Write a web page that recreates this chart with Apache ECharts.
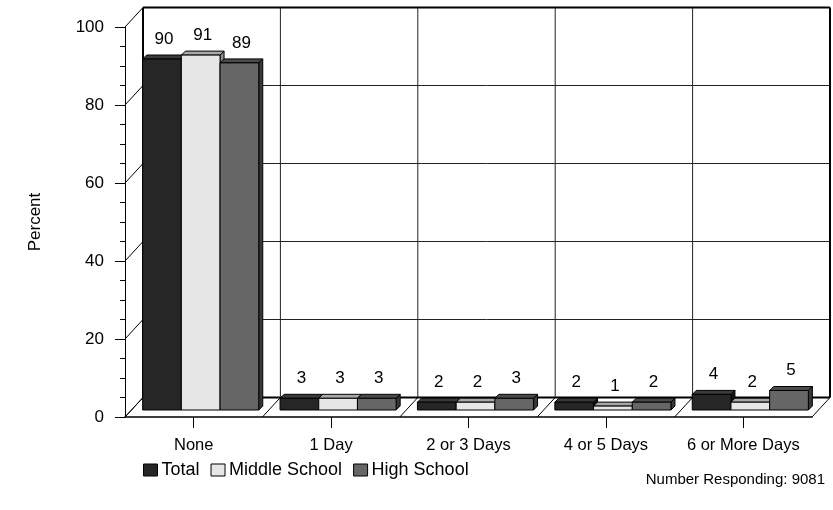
<!DOCTYPE html>
<html>
<head>
<meta charset="utf-8">
<script src="https://cdn.jsdelivr.net/npm/echarts@6/dist/echarts.min.js"></script>
<style>
  html, body { margin: 0; padding: 0; background: #ffffff; }
  #chart { width: 833px; height: 510px; }
</style>
</head>
<body>
<div id="chart"></div>
<script>
// Survey answers: share of students (percent) by number of days
const categories = ['None', '1 Day', '2 or 3 Days', '4 or 5 Days', '6 or More Days'];
const seriesNames = ['Total', 'Middle School', 'High School'];
const totalValues = [90, 3, 2, 2, 4];
const middleValues = [91, 3, 2, 1, 2];
const highValues = [89, 3, 3, 2, 5];
const yTickValues = [0, 20, 40, 60, 80, 100];
const respondentNote = 'Number Responding: 9081';

const FONT = '"Liberation Sans", Arial, Helvetica, sans-serif';

// Pseudo-3D geometry (pixels)
const WALL_DX = 18, WALL_DY = -19.5;      // depth of the box (back wall offset)
const BAR_SHIFT_X = 7, BAR_SHIFT_Y = -7;  // bars stand a little behind the front edge
const BAR_DX = 4, BAR_DY = -4;            // thickness of each bar
const GROUP_RATIO = 0.845;                // share of a category band used by its bars

// front / top / side shades for each series
const faceColors = [
  { front: '#262626', top: '#3a3a3a', side: '#121212' },
  { front: '#e6e6e6', top: '#a8a8a8', side: '#8c8c8c' },
  { front: '#666666', top: '#4a4a4a', side: '#383838' }
];

function line(x1, y1, x2, y2, w, color) {
  return {
    type: 'line',
    shape: { x1: x1, y1: y1, x2: x2, y2: y2 },
    style: { stroke: color || '#000', lineWidth: w || 1 }
  };
}

// Back wall, left side wall and floor of the box
function renderFrame(params, api) {
  const cs = params.coordSys;
  const x0 = cs.x, x1 = cs.x + cs.width;
  const yTop = cs.y, yBot = cs.y + cs.height;
  const band = api.size([1, 0])[0];
  const kids = [];
  kids.push({
    type: 'polygon',
    shape: { points: [[x0 + WALL_DX, yTop + WALL_DY], [x1 + WALL_DX, yTop + WALL_DY],
                      [x1 + WALL_DX, yBot + WALL_DY], [x0 + WALL_DX, yBot + WALL_DY]] },
    style: { fill: '#ffffff' }
  });
  // horizontal grid lines on the back wall, diagonals on the left wall
  yTickValues.forEach(function (v) {
    const y = api.coord([0, v])[1];
    const edge = (v === 0 || v === 100);
    kids.push(line(x0, y, x0 + WALL_DX, y + WALL_DY, 1, '#000'));
    kids.push(line(x0 + WALL_DX, y + WALL_DY, x1 + WALL_DX, y + WALL_DY, edge ? 2 : 1, edge ? '#000' : '#222'));
  });
  // category boundaries: back wall verticals and floor diagonals
  for (let k = 0; k <= categories.length; k++) {
    const xb = x0 + k * band;
    const edge = (k === 0 || k === categories.length);
    kids.push(line(xb + WALL_DX, yTop + WALL_DY, xb + WALL_DX, yBot + WALL_DY, edge ? 2 : 1, edge ? '#000' : '#222'));
    kids.push(line(xb, yBot, xb + WALL_DX, yBot + WALL_DY, 1, '#000'));
  }
  return { type: 'group', children: kids };
}

function makeBarRenderer(idx) {
  const c = faceColors[idx];
  return function (params, api) {
    const cat = api.value(0), val = api.value(1);
    const topPt = api.coord([cat, val]);
    const basePt = api.coord([cat, 0]);
    const band = api.size([1, 0])[0];
    const groupW = band * GROUP_RATIO;
    const bw = groupW / 3;
    const left = topPt[0] - groupW / 2 + idx * bw + BAR_SHIFT_X;
    const right = left + bw;
    const yT = topPt[1] + BAR_SHIFT_Y;
    const yB = basePt[1] + BAR_SHIFT_Y;
    const edge = { stroke: '#000', lineWidth: 1, lineJoin: 'miter' };
    return {
      type: 'group',
      children: [
        { type: 'polygon',
          shape: { points: [[right, yT], [right + BAR_DX, yT + BAR_DY], [right + BAR_DX, yB + BAR_DY], [right, yB]] },
          style: Object.assign({ fill: c.side }, edge) },
        { type: 'polygon',
          shape: { points: [[left, yT], [left + BAR_DX, yT + BAR_DY], [right + BAR_DX, yT + BAR_DY], [right, yT]] },
          style: Object.assign({ fill: c.top }, edge) },
        { type: 'rect',
          shape: { x: left, y: yT, width: bw, height: yB - yT },
          style: Object.assign({ fill: c.front }, edge) },
        { type: 'text',
          x: left + bw / 2 + 2, y: yT - 20,
          style: { text: String(val), fill: '#000', font: '17px ' + FONT,
                   align: 'center', verticalAlign: 'middle' } }
      ]
    };
  };
}

const valueSets = [totalValues, middleValues, highValues];

const barSeries = seriesNames.map(function (name, i) {
  return {
    name: name,
    type: 'custom',
    z: 3,
    renderItem: makeBarRenderer(i),
    itemStyle: { color: faceColors[i].front, borderColor: '#000', borderWidth: 1 },
    encode: { x: 0, y: 1 },
    data: valueSets[i].map(function (v, k) { return [k, v]; })
  };
});

const chart = echarts.init(document.getElementById('chart'), null, { renderer: 'canvas' });
chart.setOption({
  animation: false,
  backgroundColor: '#ffffff',
  textStyle: { fontFamily: FONT, color: '#000' },
  title: {
    text: respondentNote,
    right: 3, top: 467,
    textStyle: { fontSize: 15, fontWeight: 'normal', color: '#000', fontFamily: FONT }
  },
  legend: {
    data: seriesNames,
    left: 138, top: 456,
    icon: 'rect',
    itemWidth: 14, itemHeight: 12, itemGap: 11,
    itemStyle: { borderColor: '#000', borderWidth: 1 },
    textStyle: { fontSize: 18, color: '#000', fontFamily: FONT, padding: [0, 0, 0, -1] }
  },
  grid: { left: 125, right: 21, top: 27, bottom: 93, containLabel: false },
  xAxis: {
    type: 'category',
    data: categories,
    boundaryGap: true,
    axisLine: { show: true, lineStyle: { color: '#000', width: 1.5 } },
    axisTick: { show: true, alignWithLabel: true, length: 11, lineStyle: { color: '#000' } },
    axisLabel: { interval: 0, margin: 20, fontSize: 16.5, color: '#000', fontFamily: FONT },
    splitLine: { show: false }
  },
  yAxis: {
    type: 'value',
    min: 0, max: 100, interval: 20,
    name: 'Percent',
    nameLocation: 'middle',
    nameGap: 81,
    nameRotate: 90,
    nameTextStyle: { fontSize: 17, color: '#000', fontFamily: FONT },
    axisLine: { show: true, lineStyle: { color: '#000', width: 1 } },
    axisTick: { show: true, length: 10, lineStyle: { color: '#000' } },
    minorTick: { show: true, splitNumber: 4, length: 5, lineStyle: { color: '#000' } },
    axisLabel: { margin: 21, fontSize: 17, color: '#000', fontFamily: FONT },
    splitLine: { show: false }
  },
  series: [{
    name: 'frame',
    type: 'custom',
    z: 1,
    silent: true,
    renderItem: renderFrame,
    encode: { x: 0, y: 1 },
    data: [[0, 0]]
  }].concat(barSeries)
});
</script>
</body>
</html>
